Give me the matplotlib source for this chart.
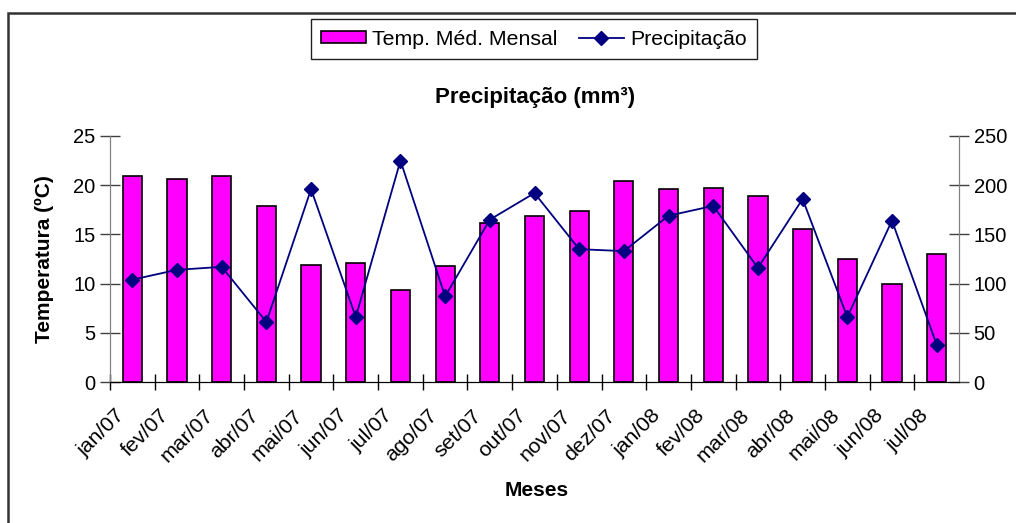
import numpy as np
import matplotlib.pyplot as plt
import matplotlib.transforms as mtransforms
from matplotlib.lines import Line2D
from matplotlib.patches import Patch

plt.rcParams['font.family'] = ['Liberation Sans', 'DejaVu Sans']

# Dados
meses = ['jan/07', 'fev/07', 'mar/07', 'abr/07', 'mai/07', 'jun/07', 'jul/07',
         'ago/07', 'set/07', 'out/07', 'nov/07', 'dez/07', 'jan/08', 'fev/08',
         'mar/08', 'abr/08', 'mai/08', 'jun/08', 'jul/08']
temperatura = [20.9, 20.6, 20.9, 17.9, 11.9, 12.1, 9.35, 11.8, 16.2, 16.9,
               17.4, 20.4, 19.6, 19.7, 18.9, 15.5, 12.5, 10.0, 13.0]
precipitacao = [104, 114, 117, 61, 196, 66, 225, 87, 165, 192,
                135, 133, 169, 179, 116, 186, 66, 164, 38]

x = np.arange(len(meses))

fig = plt.figure(figsize=(10.16, 5.23), dpi=100)
ax = fig.add_axes([110/1016, 1-382/523, (959-110)/1016, (382-136)/523])
ax2 = ax.twinx()

# Barras de temperatura
ax.bar(x, temperatura, width=0.43, color='#ff00ff', edgecolor='black', linewidth=1.2, zorder=2)
# Linha de precipitação
ax2.plot(x, precipitacao, color='#000080', marker='D', markersize=7.5, linewidth=1.3, zorder=3)

ax.set_xlim(-0.5, len(meses) - 0.5)
ax.set_ylim(0, 25)
ax2.set_ylim(0, 250)
ax.set_yticks(np.arange(0, 26, 5))
ax2.set_yticks(np.arange(0, 251, 50))

# Marcas do eixo x entre as categorias
ax.set_xticks(x - 0.5, minor=False)
ax.set_xticklabels([])
ax.set_xticks(x, minor=True)
ax.set_xticklabels(meses, minor=True, rotation=45, ha='right', va='center',
                   rotation_mode='anchor', fontsize=15.3)
ax.tick_params(axis='x', which='minor', length=0, pad=22)
ax.tick_params(axis='x', which='major', direction='inout', length=12, width=1)
offset = mtransforms.ScaledTranslation(-0.11, 0, fig.dpi_scale_trans)
for lab in ax.get_xticklabels(minor=True):
    lab.set_transform(lab.get_transform() + offset)

ax.tick_params(axis='y', direction='inout', length=14, width=1, labelsize=14.5, color='#404040')
ax2.tick_params(axis='y', direction='inout', length=14, width=1, labelsize=14.5, color='#404040')

for a in (ax, ax2):
    a.spines['top'].set_visible(False)
    a.spines['left'].set_color('#808080')
    a.spines['right'].set_color('#808080')
    a.spines['bottom'].set_color('black')

ax.set_ylabel('Temperatura (ºC)', fontsize=15, fontweight='bold', labelpad=14)
fig.text(537/1016, 1-490/523, 'Meses', fontsize=15, fontweight='bold',
         ha='center', va='center')
fig.text(535/1016, 1-98/523, 'Precipitação (mm³)', fontsize=16, fontweight='bold',
         ha='center', va='center')

handles = [Patch(facecolor='#ff00ff', edgecolor='black', linewidth=1.2),
           Line2D([], [], color='#000080', marker='D', markersize=7.5, linewidth=1.3)]
leg = fig.legend(handles, ['Temp. Méd. Mensal', 'Precipitação'], loc='upper center',
                 bbox_to_anchor=(534/1016, 1-19/523), ncol=2, fontsize=15.3,
                 frameon=True, fancybox=False, edgecolor='#202020', framealpha=1,
                 borderpad=0.5, handlelength=2.1, handleheight=0.48,
                 handletextpad=0.3, columnspacing=1.0, borderaxespad=0)
leg.get_frame().set_linewidth(1)

# Borda externa (apenas esquerda e topo visíveis)
fig.add_artist(plt.Rectangle((8/1016, -0.1), 1.2, 1.1 - 13/523, transform=fig.transFigure,
                             fill=False, edgecolor='#333333', linewidth=1.8))

fig.savefig('out.png', dpi=100)
